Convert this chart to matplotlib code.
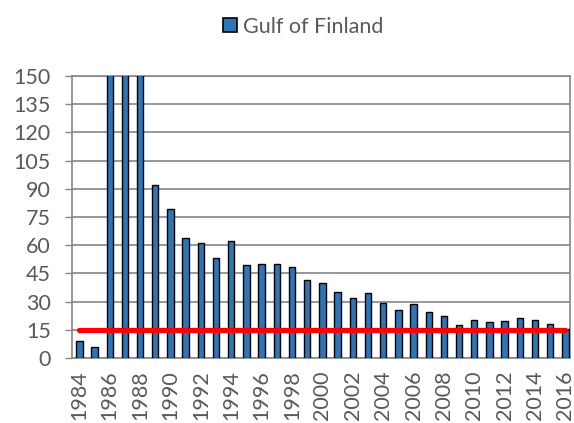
import numpy as np
import matplotlib
matplotlib.use('Agg')
import matplotlib.pyplot as plt
from matplotlib.lines import Line2D

# data (1986-1988 are clipped above 150)
years = list(range(1984, 2017))
values = [9, 6, 180, 180, 180, 92, 79, 63.7, 61, 53, 62.4, 49.6, 50, 50.2, 48.4,
          41.5, 40, 35, 32, 34.4, 29, 25.3, 28.7, 24.3, 22.3, 17.6, 20.4, 19.1,
          19.5, 21.1, 20, 18.2, 15.6]
target = 15
series_name = 'Gulf of Finland'
yticks = list(range(0, 151, 15))
xtick_years = years[::2]

plt.rcParams['font.family'] = ['Lato', 'DejaVu Sans']
grey = '#595959'

fig = plt.figure(figsize=(5.74, 4.23), dpi=100)
ax = fig.add_axes([0.125, 0.154, 0.868, 0.666])

ax.bar(years, values, width=0.42, color='#2E75B6', edgecolor='black', linewidth=1.0, zorder=3)
ax.plot([years[0], years[-1]], [target, target], color='#FF0000', linewidth=3.8,
        solid_capstyle='round', zorder=4)

ax.set_ylim(0, 150)
ax.set_xlim(1983.5, 2016.3)
ax.set_yticks(yticks)
ax.set_xticks(xtick_years)
ax.set_xticklabels([str(y) for y in xtick_years], rotation=90)
ax.tick_params(axis='y', labelsize=15.5, colors=grey, length=5, width=1, color='#868686', pad=10)
ax.tick_params(axis='x', labelsize=15.5, colors=grey, length=0, pad=9)
ax.yaxis.grid(True, color='#868686', linewidth=1.2, zorder=0)
for s in ax.spines.values():
    s.set_color('#868686')
    s.set_linewidth(1.2)

handle = Line2D([], [], marker='s', linestyle='none', markersize=10,
                markerfacecolor='#2E75B6', markeredgecolor='black', markeredgewidth=1.2)
fig.legend([handle], [series_name], loc='upper center', bbox_to_anchor=(0.526, 1.006),
           frameon=False, fontsize=15.5, handlelength=0.8, handletextpad=0.2, labelcolor=grey)

fig.savefig('out.png', dpi=100)
